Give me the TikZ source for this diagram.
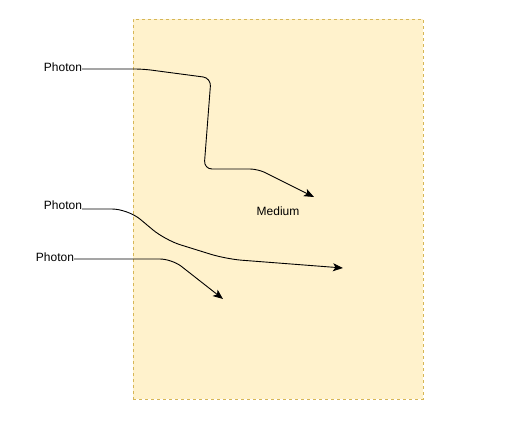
\documentclass[tikz,border=0pt]{standalone}
\usepackage{fontspec}
\setmainfont{Liberation Sans}
\usetikzlibrary{arrows.meta}
\definecolor{mfill}{HTML}{FFF2CC}
\definecolor{mline}{HTML}{D6B656}
\tikzset{
  lbl/.style={inner sep=0pt, font=\fontsize{12}{14}\selectfont},
  ray/.style={line width=0.9pt, -{Stealth[length=10pt,width=8pt,inset=2.5pt]}},
  medbox/.style={draw=mline, fill=mfill, dash pattern=on 3pt off 3pt, line width=0.8pt, minimum width=290pt, minimum height=380pt, inner sep=0pt}
}
\begin{document}
\begin{tikzpicture}[x=1pt,y=-1pt]
\useasboundingbox (0,0) rectangle (513,429);
\node[medbox] (box) at (278,209) {};
\node[lbl] (med) at (278,211) {Medium};
\node[lbl] (p1) at (63,67.5) {Photon};
\node[lbl] (p2) at (63,205.5) {Photon};
\node[lbl] (p3) at (55,257.5) {Photon};
\coordinate (e1) at (314,197);
\coordinate (e2) at (343,268);
\coordinate (e3) at (223,299);
\draw[ray, rounded corners=8pt] (p1.east |- 0,69) -- (143,69) -- (211,78) -- (204,169) -- (258,169) -- (e1);
\draw[ray, rounded corners=16pt] (p2.east |- 0,209) -- (128,209) -- (165,240) -- (226,259) -- (e2);
\draw[ray, rounded corners=12pt] (p3.east |- 0,259) -- (172,259) -- (e3);
\end{tikzpicture}
\end{document}
